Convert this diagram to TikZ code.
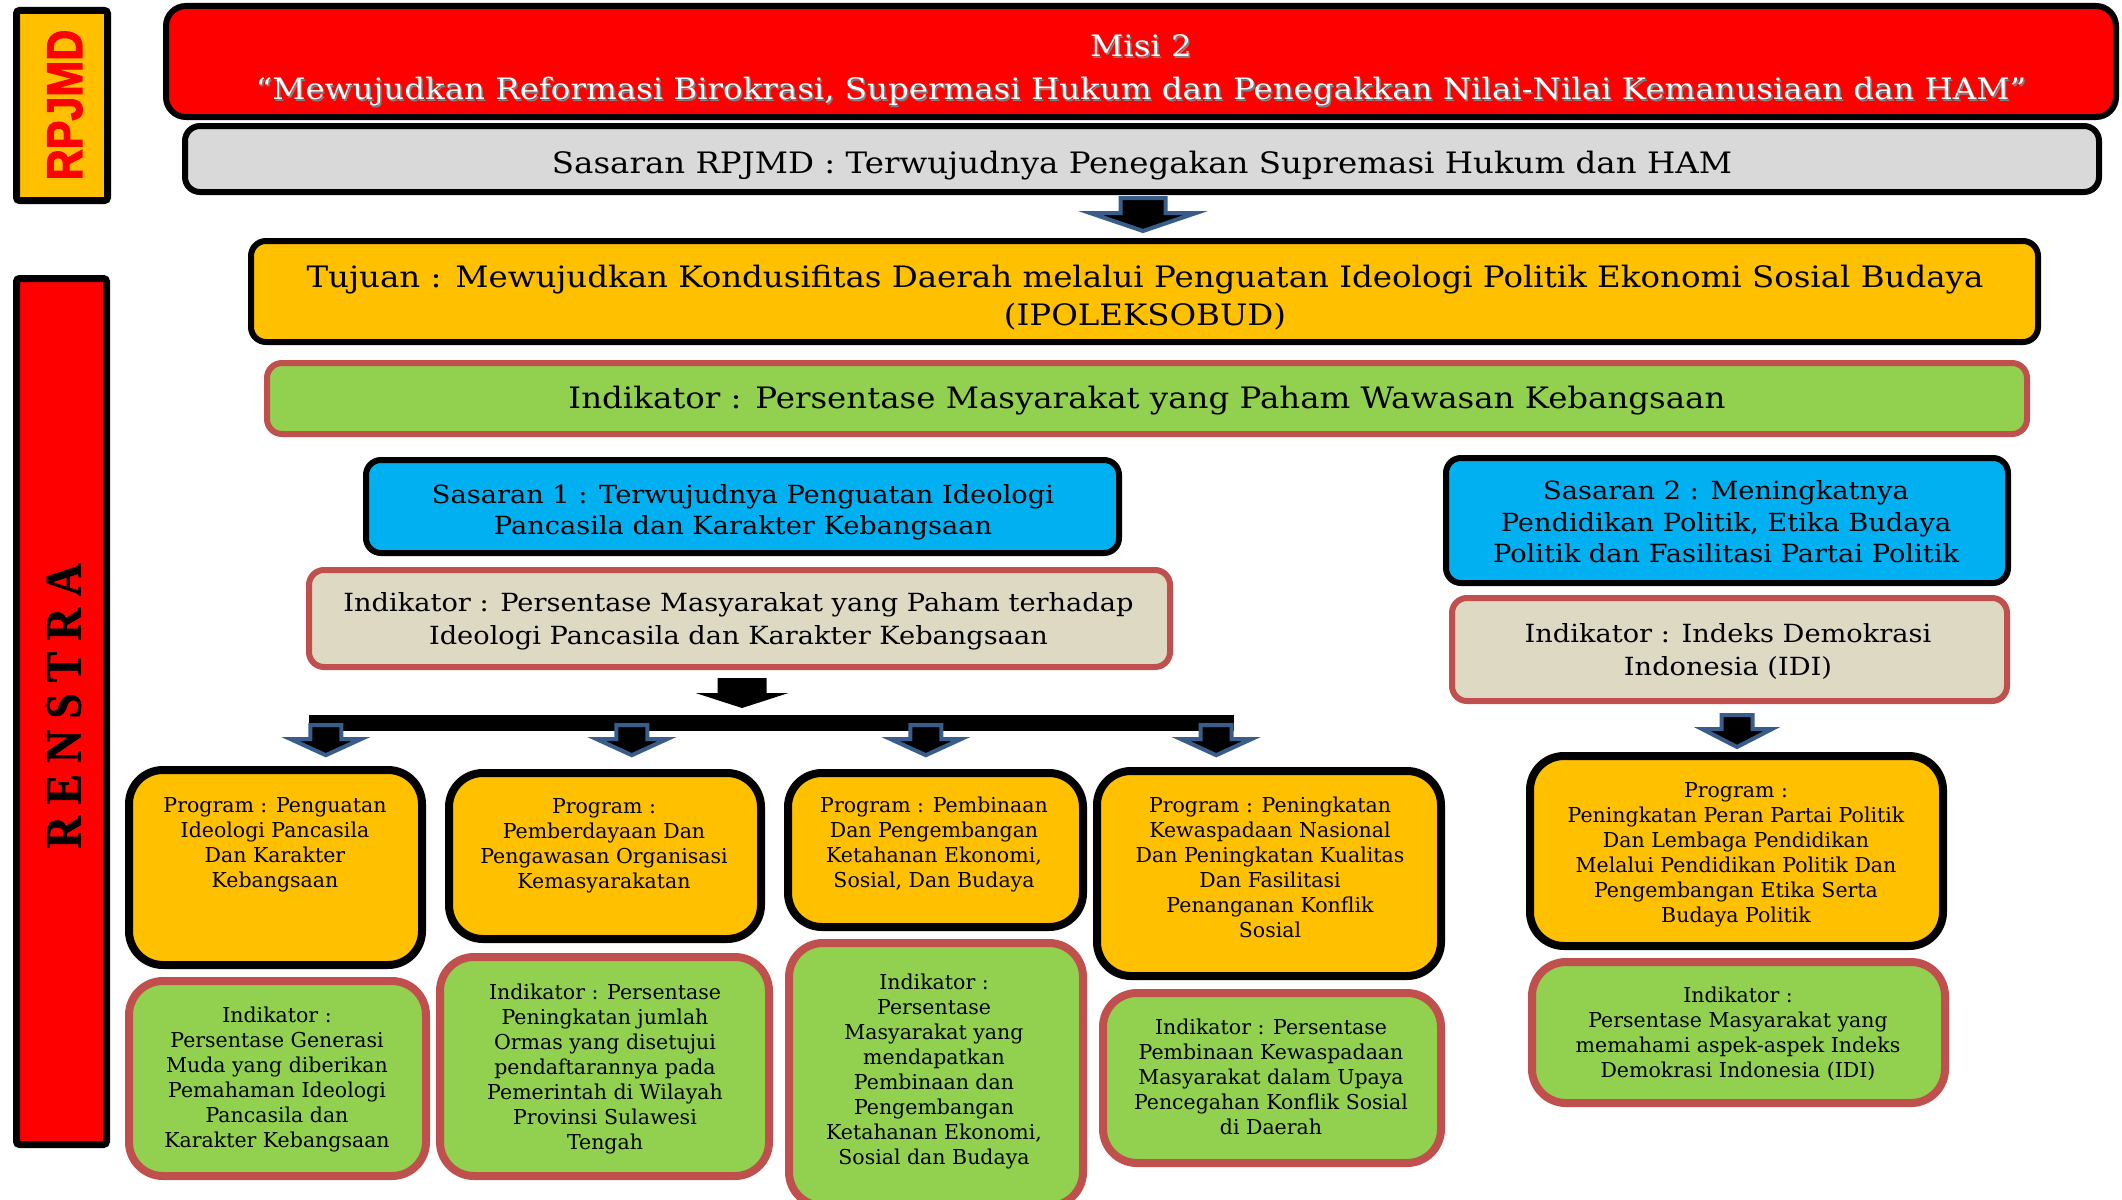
\documentclass[tikz,border=0pt]{standalone}
\usepackage{fontspec}
\setmainfont{DejaVu Serif}
\newfontfamily\bigfont[FakeStretch=1.1]{DejaVu Serif}
\newfontfamily\midfont[FakeStretch=1.09]{DejaVu Serif}
\newfontfamily\rpfont[BoldFeatures={FakeBold=2.5}]{Liberation Sans}
\newfontfamily\rnfont[BoldFeatures={FakeBold=1}]{Liberation Serif}
\usetikzlibrary{calc}
\definecolor{cred}{HTML}{FF0000}
\definecolor{cgray}{HTML}{D9D9D9}
\definecolor{cyel}{HTML}{FFC000}
\definecolor{cgreen}{HTML}{92D050}
\definecolor{cblue}{HTML}{00B0F0}
\definecolor{cbeige}{HTML}{DDD9C3}
\definecolor{cborder}{HTML}{C0504D}
\definecolor{carrow}{HTML}{385D8A}
\tikzset{
  bigbox/.style={rectangle, rounded corners=15pt, line width=6pt, inner sep=0pt},
  smallbox/.style={rectangle, rounded corners=34pt, line width=8pt, inner sep=0pt},
  blackline/.style={draw=black},
  redline/.style={draw=cborder},
  bigtxt/.style={align=center, inner sep=0pt, font=\bigfont\fontsize{29.5}{43}\selectfont},
  midtxt/.style={align=center, inner sep=0pt, font=\midfont\fontsize{25}{31.5}\selectfont},
  smalltxt/.style={align=center, inner sep=0pt, font=\fontsize{20.5}{25}\selectfont},
  bluearrow/.style={fill=black, draw=carrow, line width=4pt, line join=miter},
  blackarrow/.style={fill=black},
  pics/blockarr/.style n args={4}{code={
    \path[pic actions] (-#1,-#3) -- (#1,-#3) -- (#1,-#4) -- (#2,-#4) -- (0,0)
      -- (-#2,-#4) -- (-#1,-#4) -- cycle;}}
}
\begin{document}
\begin{tikzpicture}[x=1pt,y=-1pt]
\useasboundingbox (0,0) rectangle (2122,1199);

% side labels
\node[rectangle, rounded corners=3pt, line width=7pt, draw=black, fill=cyel,
  minimum width=91pt, minimum height=190pt] (rpbox) at (62,105.5) {};
\node[rotate=90, text=cred, inner sep=0pt, font=\rpfont\bfseries\fontsize{50}{50}\selectfont] (rptxt) at (65,105) {\scalebox{0.86}[1]{RPJMD}};
\node[rectangle, rounded corners=3pt, line width=7pt, draw=black, fill=cred,
  minimum width=90pt, minimum height=866pt] (rnbox) at (61.5,711.5) {};
\node[rotate=90, inner sep=0pt, font=\rnfont\bfseries\fontsize{51}{51}\selectfont] (rntxt) at (64,706) {\scalebox{0.89}[1]{R E N S T R A}};

% top boxes
\node[bigbox, rounded corners=20pt, blackline, fill=cred, minimum width=1950pt, minimum height=111pt] (misi) at (1141,61.5) {};
\node[bigtxt, text=black!50] (misis) at (1142.5,72) {Misi 2\\“Mewujudkan Reformasi Birokrasi, Supermasi Hukum dan Penegakkan Nilai-Nilai Kemanusiaan dan HAM”};
\node[bigtxt, text=white] (misit) at (1141,70.5) {Misi 2\\“Mewujudkan Reformasi Birokrasi, Supermasi Hukum dan Penegakkan Nilai-Nilai Kemanusiaan dan HAM”};
\node[bigbox, blackline, fill=cgray, minimum width=1914pt, minimum height=66pt] (sasr) at (1142,159) {};
\node[bigtxt] (sasrt) at (1142,166) {Sasaran RPJMD : Terwujudnya Penegakan Supremasi Hukum dan HAM};
\node[bigbox, blackline, fill=cyel, minimum width=1787pt, minimum height=101pt] (tuj) at (1144.5,291.5) {};
\node[bigtxt, font=\bigfont\fontsize{29.5}{38}\selectfont] (tujt) at (1145,298) {Tujuan : Mewujudkan Kondusifitas Daerah melalui Penguatan Ideologi Politik Ekonomi Sosial Budaya\\(IPOLEKSOBUD)};
\node[bigbox, redline, fill=cgreen, minimum width=1760pt, minimum height=71pt] (ind) at (1147,398.5) {};
\node[bigtxt] (indt) at (1147,401) {Indikator : Persentase Masyarakat yang Paham Wawasan Kebangsaan};

% sasaran 1
\node[bigbox, blackline, fill=cblue, minimum width=753pt, minimum height=93pt] (sas1) at (742.5,506.5) {};
\node[midtxt] (sas1t) at (743,512.5) {Sasaran 1 : Terwujudnya Penguatan Ideologi\\Pancasila dan Karakter Kebangsaan};
\node[bigbox, redline, fill=cbeige, minimum width=861pt, minimum height=97pt] (inds1) at (739.5,618.5) {};
\node[midtxt, font=\midfont\fontsize{25}{33}\selectfont] (inds1t) at (738.5,621) {Indikator : Persentase Masyarakat yang Paham terhadap\\Ideologi Pancasila dan Karakter Kebangsaan};

% sasaran 2
\node[bigbox, blackline, fill=cblue, minimum width=562pt, minimum height=125pt] (sas2) at (1727,520.5) {};
\node[midtxt] (sas2t) at (1726,522) {Sasaran 2 : Meningkatnya\\Pendidikan Politik, Etika Budaya\\Politik dan Fasilitasi Partai Politik};
\node[bigbox, redline, fill=cbeige, minimum width=555pt, minimum height=103pt] (inds2) at (1729.5,649.5) {};
\node[midtxt, font=\midfont\fontsize{25}{33}\selectfont] (inds2t) at (1728,651.5) {Indikator : Indeks Demokrasi\\Indonesia (IDI)};

% arrows
\pic[bluearrow] at ($(tuj.north)+(-1.5,-7)$) {blockarr={22.5}{53}{33}{18}};
\pic[blackarrow] at ($(inds1.south)+(2.5,38)$) {blockarr={24.5}{46.5}{30}{15}};
\node[rectangle, fill=black, inner sep=0pt, minimum width=925pt, minimum height=16pt] (bar) at (771.5,723) {};
\coordinate (t1) at ($(bar.south west)+(17,24)$);
\coordinate (t2) at ($(bar.south west)+(323,24)$);
\coordinate (t3) at ($(bar.south west)+(617,24)$);
\coordinate (t4) at ($(bar.south east)+(-18,24)$);
\foreach \t in {t1,t2,t3,t4}{
  \pic[bluearrow] at (\t) {blockarr={15.5}{35}{30}{16}};
}
\pic[bluearrow] at ($(inds2.south)+(7.5,43)$) {blockarr={15.5}{35}{32}{18}};

% program boxes
\node[smallbox, blackline, fill=cyel, minimum width=293pt, minimum height=195pt] (p1) at (275.5,867.5) {};
\node[smalltxt] (p1t) at (275,844.5) {Program : Penguatan\\Ideologi Pancasila\\Dan Karakter\\Kebangsaan};
\node[smallbox, blackline, fill=cyel, minimum width=312pt, minimum height=166pt] (p2) at (605,856) {};
\node[smalltxt] (p2t) at (604,846) {Program :\\Pemberdayaan Dan\\Pengawasan Organisasi\\Kemasyarakatan};
\node[smallbox, blackline, fill=cyel, minimum width=295pt, minimum height=154pt] (p3) at (935.5,850) {};
\node[smalltxt] (p3t) at (934,844.5) {Program : Pembinaan\\Dan Pengembangan\\Ketahanan Ekonomi,\\Sosial, Dan Budaya};
\node[smallbox, blackline, fill=cyel, minimum width=344pt, minimum height=205pt] (p4) at (1269,873.5) {};
\node[smalltxt] (p4t) at (1270,867) {Program : Peningkatan\\Kewaspadaan Nasional\\Dan Peningkatan Kualitas\\Dan Fasilitasi\\Penanganan Konflik\\Sosial};
\node[smallbox, blackline, fill=cyel, minimum width=413pt, minimum height=190pt] (p5) at (1736.5,851) {};
\node[smalltxt] (p5t) at (1736,855) {Program :\\Peningkatan Peran Partai Politik\\Dan Lembaga Pendidikan\\Melalui Pendidikan Politik Dan\\Pengembangan Etika Serta\\Budaya Politik};

% indikator boxes
\node[smallbox, redline, fill=cgreen, minimum width=297pt, minimum height=195pt] (i1) at (277.5,1078.5) {};
\node[smalltxt] (i1t) at (277,1079) {Indikator :\\Persentase Generasi\\Muda yang diberikan\\Pemahaman Ideologi\\Pancasila dan\\Karakter Kebangsaan};
\node[smallbox, redline, fill=cgreen, minimum width=329pt, minimum height=219pt] (i2) at (604.5,1066.5) {};
\node[smalltxt] (i2t) at (605,1069) {Indikator : Persentase\\Peningkatan jumlah\\Ormas yang disetujui\\pendaftarannya pada\\Pemerintah di Wilayah\\Provinsi Sulawesi\\Tengah};
\node[smallbox, redline, fill=cgreen, minimum width=294pt, minimum height=263pt] (i3) at (936,1074.5) {};
\node[smalltxt] (i3t) at (934,1071) {Indikator :\\Persentase\\Masyarakat yang\\mendapatkan\\Pembinaan dan\\Pengembangan\\Ketahanan Ekonomi,\\Sosial dan Budaya};
\node[smallbox, redline, fill=cgreen, minimum width=338pt, minimum height=170pt] (i4) at (1272,1078) {};
\node[smalltxt] (i4t) at (1271,1076.5) {Indikator : Persentase\\Pembinaan Kewaspadaan\\Masyarakat dalam Upaya\\Pencegahan Konflik Sosial\\di Daerah};
\node[smallbox, redline, fill=cgreen, minimum width=413pt, minimum height=141pt] (i5) at (1738.5,1032.5) {};
\node[smalltxt] (i5t) at (1738,1034) {Indikator :\\Persentase Masyarakat yang\\memahami aspek-aspek Indeks\\Demokrasi Indonesia (IDI)};
\end{tikzpicture}
\end{document}
